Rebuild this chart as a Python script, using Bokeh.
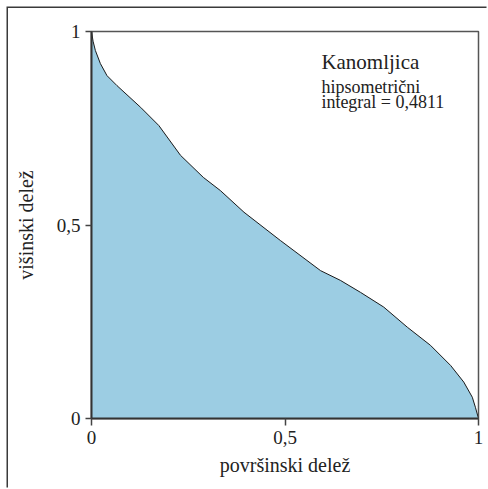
from bokeh.plotting import figure
from bokeh.models import Range1d, FixedTicker, CustomJSTickFormatter, Label
from bokeh.embed import file_html
from bokeh.resources import INLINE

# Hypsometric curve (area share vs. height share)
area_share = [0, 0.004, 0.010, 0.023, 0.040, 0.066, 0.127, 0.174, 0.230, 0.289,
              0.333, 0.394, 0.488, 0.592, 0.643, 0.695, 0.755, 0.816, 0.876,
              0.928, 0.962, 0.984, 0.992, 1.0]
height_share = [1.0, 0.975, 0.951, 0.917, 0.886, 0.860, 0.804, 0.757, 0.680, 0.623,
                0.589, 0.533, 0.460, 0.382, 0.357, 0.326, 0.288, 0.236, 0.189,
                0.137, 0.094, 0.055, 0.029, 0.0]
base = [0.0] * len(area_share)
tick_values = [0, 0.5, 1]
title_text = "Kanomljica"
info_line1 = "hipsometrični"
info_line2 = "integral = 0,4811"

FONT = "Liberation Serif"

p = figure(width=480, height=481, output_backend="svg", toolbar_location=None,
           x_range=Range1d(0, 1), y_range=Range1d(0, 1),
           min_border_left=83, min_border_top=23, min_border_right=10,
           min_border_bottom=71)
p.margin = (8, 0, 0, 8)
p.border_fill_color = "white"
p.background_fill_color = "white"
p.outline_line_color = "#555555"
p.outline_line_width = 1.5
p.xgrid.visible = False
p.ygrid.visible = False
p.styles = {"box-shadow": "-1.5px -1.5px 0 0 #3a3a3a"}

p.varea(x=area_share, y1=base, y2=height_share, fill_color="#9ccde3")
p.line(x=area_share, y=height_share, line_color="#1a1a1a", line_width=1)

fmt = CustomJSTickFormatter(code="return tick.toString().replace('.', ',');")
for ax in (p.xaxis[0], p.yaxis[0]):
    ax.ticker = FixedTicker(ticks=tick_values)
    ax.formatter = fmt
    ax.minor_tick_line_color = None
    ax.major_tick_in = 0
    ax.major_tick_out = 7
    ax.major_tick_line_color = "#444444"
    ax.major_tick_line_width = 1.5
    ax.axis_line_color = "#333333"
    ax.axis_line_width = 2
    ax.major_label_text_font = FONT
    ax.major_label_text_font_size = "19px"
    ax.major_label_text_color = "#222222"
    ax.axis_label_text_font = FONT
    ax.axis_label_text_font_size = "20px"
    ax.axis_label_text_font_style = "normal"
    ax.axis_label_text_color = "#222222"

p.xaxis.axis_label = "površinski delež"
p.yaxis.axis_label = "višinski delež"
p.xaxis.major_label_standoff = 5
p.yaxis.major_label_standoff = 5
p.xaxis.axis_label_standoff = 7
p.yaxis.axis_label_standoff = 17
p.yaxis.major_tick_out = 6

p.add_layout(Label(x=0.594, y=0.920, text=title_text, text_font=FONT,
                   text_font_size="21px", text_color="#222222",
                   text_baseline="alphabetic"))
p.add_layout(Label(x=0.594, y=0.857, text=info_line1, text_font=FONT,
                   text_font_size="18px", text_color="#222222",
                   text_baseline="alphabetic"))
p.add_layout(Label(x=0.594, y=0.817, text=info_line2, text_font=FONT,
                   text_font_size="18px", text_color="#222222",
                   text_baseline="alphabetic"))

open("out.html", "w").write(file_html(p, INLINE))
